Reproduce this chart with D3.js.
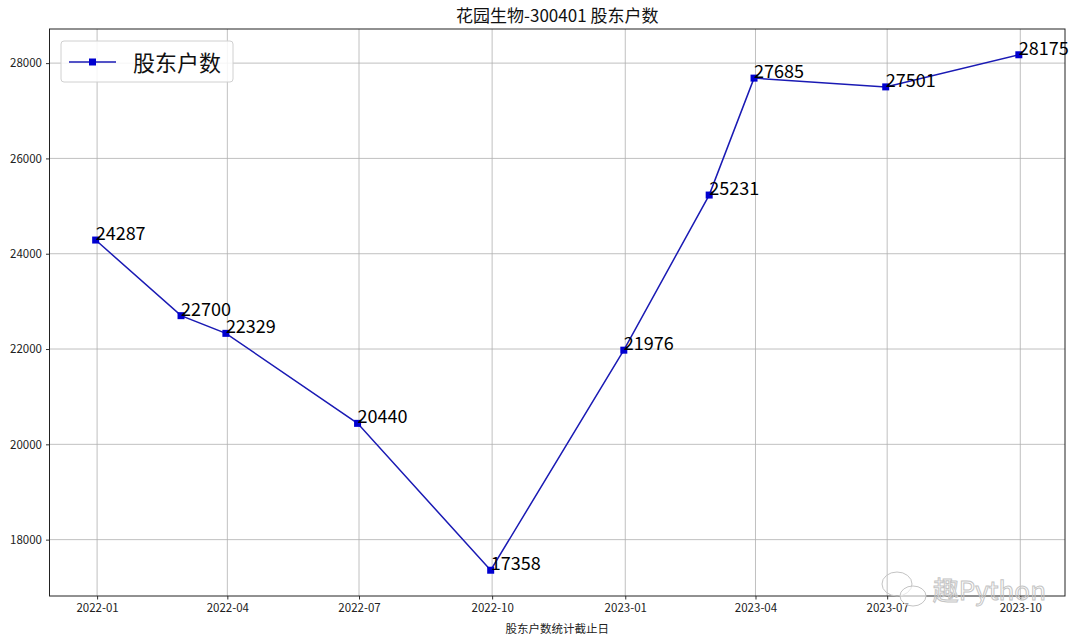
<!DOCTYPE html>
<html>
<head>
<meta charset="utf-8">
<script src="https://cdn.jsdelivr.net/npm/d3@7"></script>
<style>
  body { margin: 0; background: #fff; }
  text { font-family: "Noto Sans CJK SC", "DejaVu Sans", sans-serif; }
</style>
</head>
<body>
<svg id="chart" width="1080" height="643"></svg>
<script>
// shareholder count per reporting date
var dates = ['2021-12-31', '2022-02-28', '2022-03-31', '2022-06-30', '2022-09-30',
             '2022-12-31', '2023-02-28', '2023-03-31', '2023-06-30', '2023-09-30'];
var holders = [24287, 22700, 22329, 20440, 17358, 21976, 25231, 27685, 27501, 28175];
var xTicks = ['2022-01', '2022-04', '2022-07', '2022-10', '2023-01', '2023-04', '2023-07', '2023-10'];
var yTicks = [18000, 20000, 22000, 24000, 26000, 28000];
var title = '花园生物-300401 股东户数';
var xLabel = '股东户数统计截止日';
var seriesName = '股东户数';

var parse = d3.timeParse('%Y-%m-%d');
var parseM = d3.timeParse('%Y-%m');
var data = dates.map(function(d, i) { return { date: parse(d), value: holders[i] }; });

var svg = d3.select('#chart');
var m = { left: 49.5, right: 1065, top: 29, bottom: 596 };
var lineColor = '#1a1ab4', markColor = '#0000d0';

// matplotlib style 5% margins
var xe = d3.extent(data, function(d) { return +d.date; });
var xp = (xe[1] - xe[0]) * 0.05;
var x = d3.scaleTime().domain([new Date(xe[0] - xp), new Date(xe[1] + xp)]).range([m.left, m.right]);
var ye = d3.extent(holders);
var yp = (ye[1] - ye[0]) * 0.05;
var y = d3.scaleLinear().domain([ye[0] - yp, ye[1] + yp]).range([m.bottom, m.top]);

// grid
var g = svg.append('g');
g.selectAll('.vg').data(xTicks).enter().append('line')
  .attr('x1', function(d) { return x(parseM(d)); }).attr('x2', function(d) { return x(parseM(d)); })
  .attr('y1', m.top).attr('y2', m.bottom).attr('stroke', '#b0b0b0').attr('stroke-width', 0.8);
g.selectAll('.hg').data(yTicks).enter().append('line')
  .attr('y1', function(d) { return y(d); }).attr('y2', function(d) { return y(d); })
  .attr('x1', m.left).attr('x2', m.right).attr('stroke', '#b0b0b0').attr('stroke-width', 0.8);

// axes
var xAxis = d3.axisBottom(x).tickValues(xTicks.map(parseM)).tickFormat(d3.timeFormat('%Y-%m')).tickSizeOuter(0).tickSize(3.5).tickPadding(4);
var yAxis = d3.axisLeft(y).tickValues(yTicks).tickFormat(d3.format('d')).tickSizeOuter(0).tickSize(3.5).tickPadding(4);
var xa = svg.append('g').attr('transform', 'translate(0,' + m.bottom + ')').call(xAxis);
var ya = svg.append('g').attr('transform', 'translate(' + m.left + ',0)').call(yAxis);
[xa, ya].forEach(function(a) {
  a.select('.domain').remove();
  a.selectAll('text').attr('font-size', 11.5).attr('fill', '#222').style('font-family', '"Noto Sans CJK SC", sans-serif');
  a.selectAll('line').attr('stroke', '#333');
});

// frame
svg.append('rect').attr('x', m.left).attr('y', m.top).attr('width', m.right - m.left).attr('height', m.bottom - m.top)
  .attr('fill', 'none').attr('stroke', '#222').attr('stroke-width', 1);

// line + markers
var line = d3.line().x(function(d) { return x(d.date); }).y(function(d) { return y(d.value); });
svg.append('path').datum(data).attr('d', line).attr('fill', 'none').attr('stroke', lineColor).attr('stroke-width', 1.5);
svg.selectAll('.mk').data(data).enter().append('rect')
  .attr('x', function(d) { return x(d.date) - 3.5; }).attr('y', function(d) { return y(d.value) - 3.5; })
  .attr('width', 7).attr('height', 7).attr('fill', markColor);
svg.selectAll('.lb').data(data).enter().append('text')
  .attr('x', function(d) { return x(d.date); }).attr('y', function(d) { return y(d.value); })
  .attr('font-size', 18).attr('fill', '#000').text(function(d) { return d.value; });

// title and axis label
svg.append('text').attr('x', (m.left + m.right) / 2).attr('y', 22).attr('text-anchor', 'middle')
  .attr('font-size', 17).attr('fill', '#111').text(title);
svg.append('text').attr('x', (m.left + m.right) / 2).attr('y', 633).attr('text-anchor', 'middle')
  .attr('font-size', 11.5).attr('fill', '#222').text(xLabel);

// legend
var lg = svg.append('g').attr('transform', 'translate(61,41)');
lg.append('rect').attr('width', 172).attr('height', 41).attr('rx', 3).attr('fill', '#fff').attr('fill-opacity', 0.85)
  .attr('stroke', '#d0d0d0');
lg.append('line').attr('x1', 8).attr('x2', 55).attr('y1', 21).attr('y2', 21).attr('stroke', lineColor).attr('stroke-width', 1.5);
lg.append('rect').attr('x', 28).attr('y', 17.5).attr('width', 7).attr('height', 7).attr('fill', markColor);
lg.append('text').attr('x', 72).attr('y', 29.5).attr('font-size', 22).attr('fill', '#111').text(seriesName);

// watermark
var wm = svg.append('g').attr('fill', 'none').attr('stroke', '#c4c4c4').attr('stroke-width', 1);
wm.append('ellipse').attr('cx', 897).attr('cy', 584).attr('rx', 15).attr('ry', 12);
wm.append('ellipse').attr('cx', 913).attr('cy', 596).attr('rx', 13).attr('ry', 10).attr('fill', '#fff').attr('fill-opacity', 0.6);
wm.append('text').attr('x', 1046).attr('y', 600).attr('text-anchor', 'end').attr('font-size', 26)
  .attr('fill', 'none').text('趣Python');
</script>
</body>
</html>
